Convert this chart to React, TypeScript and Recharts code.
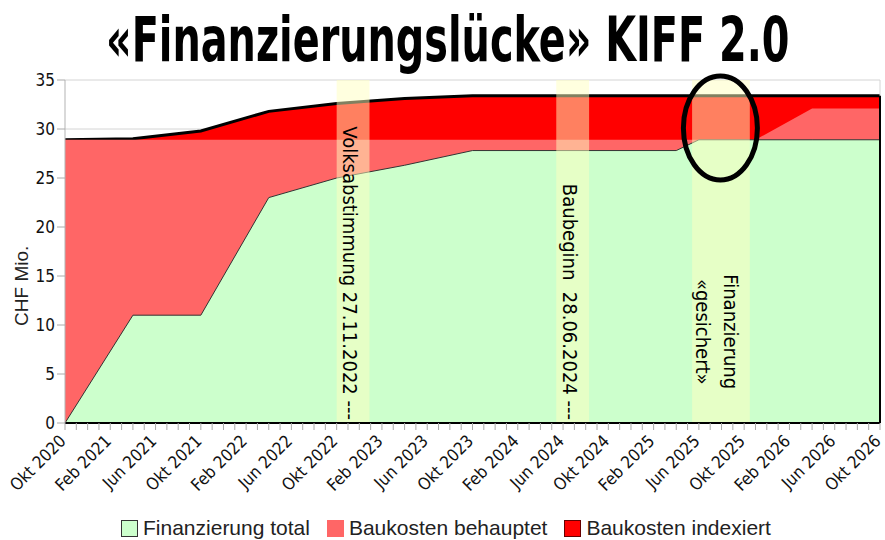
import React from "react"
import {
  AreaChart,
  Area,
  XAxis,
  YAxis,
  CartesianGrid,
  Legend,
  ReferenceArea,
  ReferenceDot,
  ReferenceLine,
} from "recharts"

// ── Data (x = months counted from Okt 2020) ──────────────────────────────────
const MONTHS = [0, 6, 12, 18, 24, 30, 36, 54, 56, 61, 66, 72]
const FINANZIERUNG_TOTAL = [0, 11, 11, 23, 25, 26.3, 27.8, 27.8, 28.9, 28.9, 28.9, 28.9]
const BAUKOSTEN_BEHAUPTET = [28.9, 28.9, 28.9, 28.9, 28.9, 28.9, 28.9, 28.9, 28.9, 28.9, 32.1, 32.1]
const BAUKOSTEN_INDEXIERT = [28.9, 29.0, 29.8, 31.8, 32.6, 33.1, 33.4, 33.4, 33.4, 33.4, 33.4, 33.4]

const TICK_LABELS = [
  "Okt 2020", "Feb 2021", "Jun 2021", "Okt 2021", "Feb 2022", "Jun 2022", "Okt 2022",
  "Feb 2023", "Jun 2023", "Okt 2023", "Feb 2024", "Jun 2024", "Okt 2024", "Feb 2025",
  "Jun 2025", "Okt 2025", "Feb 2026", "Jun 2026", "Okt 2026",
]
const Y_TICKS = [0, 5, 10, 15, 20, 25, 30, 35]

// highlighted periods
const BAND_START = [24, 43.4, 55.4]
const BAND_END = [26.9, 46.3, 60.5]
const BAND_TEXT = [
  ["Volksabstimmung 27.11.2022 ---"],
  ["Baubeginn  28.06.2024 ---"],
  ["Finanzierung", "«gesichert»"],
]

// the circled spot
const CIRCLE_MONTH = 57.9
const CIRCLE_VALUE = 30.1

const SERIES_NAMES = ["Finanzierung total", "Baukosten behauptet", "Baukosten indexiert"]

// ── Styling ───────────────────────────────────────────────────────────────────
const GREEN = "#ccffcc"
const LIGHT_RED = "#ff6666"
const RED = "#ff0000"
const BAND = "#ffffc0"
const COND = "'DejaVu Sans Condensed', 'Liberation Sans Narrow', 'Roboto', sans-serif"
const SANS = "'Liberation Sans', Arial, sans-serif"

const chartData = MONTHS.map((m, i) => ({
  month: m,
  total: FINANZIERUNG_TOTAL[i],
  behauptet: BAUKOSTEN_BEHAUPTET[i],
  indexiert: BAUKOSTEN_INDEXIERT[i],
}))

const monthTicks = Array.from({ length: 73 }, (_, i) => i)

function MonthTick(props: any) {
  const { x, y, payload } = props
  const i = payload.value
  if (i % 4 !== 0) return null
  const ax = x + 2
  const ay = y + 10
  return (
    <text
      x={ax}
      y={ay}
      textAnchor="end"
      transform={`rotate(-45 ${ax} ${ay})`}
      fontSize={17}
      fontFamily={COND}
      fill="#111"
    >
      {TICK_LABELS[i / 4]}
    </text>
  )
}

function bandLabel(idx: number) {
  return (p: any) => {
    const vb = p.viewBox
    const cx = vb.x + vb.width / 2
    const lines = BAND_TEXT[idx]
    if (lines.length === 1) {
      const bx = cx - 3
      const by = vb.y + vb.height - 3
      return (
        <text
          x={bx}
          y={by}
          textAnchor="end"
          dominantBaseline="central"
          transform={`rotate(90 ${bx} ${by})`}
          fontSize={20}
          fontFamily={COND}
          fill="#000"
          style={{ whiteSpace: "pre" }}
        >
          {lines[0]}
        </text>
      )
    }
    const my = vb.y + vb.height * 0.734
    return (
      <g>
        {lines.map((l, k) => {
          const lx = cx - 4 + (k === 0 ? 14 : -14)
          return (
            <text
              key={k}
              x={lx}
              y={my}
              textAnchor="middle"
              dominantBaseline="central"
              transform={`rotate(90 ${lx} ${my})`}
              fontSize={20}
              fontFamily={COND}
              fill="#000"
            >
              {l}
            </text>
          )
        })}
      </g>
    )
  }
}

function LegendBox() {
  const fills = [GREEN, LIGHT_RED, RED]
  const borders = ["#333", LIGHT_RED, "#600"]
  return (
    <div
      style={{
        display: "flex",
        alignItems: "center",
        height: 24,
        paddingLeft: 121,
        fontFamily: SANS,
        fontSize: 21,
        color: "#222",
      }}
    >
      {SERIES_NAMES.map((n, i) => (
        <div key={n} style={{ display: "flex", alignItems: "center", marginRight: 17 }}>
          <span
            style={{
              display: "inline-block",
              width: 15,
              height: 15,
              background: fills[i],
              border: `1px solid ${borders[i]}`,
              marginRight: 5,
            }}
          />
          <span>{n}</span>
        </div>
      ))}
    </div>
  )
}

export default function App() {
  return (
    <div
      style={{
        position: "fixed",
        left: 0,
        top: 0,
        width: 885,
        height: 540,
        background: "#fff",
        overflow: "hidden",
      }}
    >
      <svg width={885} height={80} style={{ position: "absolute", left: 0, top: 0 }}>
        <text
          transform="translate(106 61) scale(0.713 1)"
          x={0}
          y={0}
          fontSize={62}
          fontWeight="bold"
          fontFamily={COND}
          fill="#000"
        >
          «Finanzierungslücke» KIFF 2.0
        </text>
      </svg>
      <div style={{ position: "absolute", left: 0, top: 0 }}>
        <AreaChart
          width={885}
          height={540}
          data={chartData}
          margin={{ top: 80, right: 5, left: 20, bottom: 0 }}
        >
          <CartesianGrid horizontal vertical={false} stroke="#d4d4d4" />
          <XAxis
            dataKey="month"
            type="number"
            domain={[0, 72]}
            ticks={monthTicks}
            interval={0}
            height={93}
            tick={<MonthTick />}
            tickSize={7}
            tickMargin={2}
            tickLine={{ stroke: "#aaa" }}
            axisLine={{ stroke: "#000", strokeWidth: 2 }}
          />
          <YAxis
            type="number"
            domain={[0, 35]}
            ticks={Y_TICKS}
            width={45}
            tickSize={8}
            tickLine={{ stroke: "#aaa" }}
            axisLine={{ stroke: "#b3b3b3" }}
            tick={{ fontSize: 17, fontFamily: COND, fill: "#111" }}
            label={(p: any) => {
              const vb = p.viewBox
              const lx = vb.x + 2
              const ly = vb.y + vb.height * 0.6
              return (
                <text
                  x={lx}
                  y={ly}
                  textAnchor="middle"
                  dominantBaseline="central"
                  transform={`rotate(-90 ${lx} ${ly})`}
                  fontSize={19}
                  fontFamily={SANS}
                  fill="#222"
                >
                  CHF Mio.
                </text>
              )
            }}
          />
          <ReferenceLine x={72} stroke="#d4d4d4" />
          <Area
            type="linear"
            dataKey="indexiert"
            name={SERIES_NAMES[2]}
            fill={RED}
            fillOpacity={1}
            stroke="#000"
            strokeWidth={3}
            isAnimationActive={false}
          />
          <Area
            type="linear"
            dataKey="behauptet"
            name={SERIES_NAMES[1]}
            fill={LIGHT_RED}
            fillOpacity={1}
            stroke="none"
            isAnimationActive={false}
          />
          <Area
            type="linear"
            dataKey="total"
            name={SERIES_NAMES[0]}
            fill={GREEN}
            fillOpacity={1}
            stroke="#333"
            strokeWidth={1}
            isAnimationActive={false}
          />
          <ReferenceLine
            segment={[
              { x: 72, y: 0 },
              { x: 72, y: BAUKOSTEN_INDEXIERT[BAUKOSTEN_INDEXIERT.length - 1] },
            ]}
            stroke="#000"
            strokeWidth={2}
          />
          {BAND_START.map((s, i) => (
            <ReferenceArea
              key={i}
              x1={s}
              x2={BAND_END[i]}
              y1={0}
              y2={35}
              fill={BAND}
              fillOpacity={0.5}
              stroke="none"
              label={bandLabel(i)}
            />
          ))}
          <ReferenceDot
            x={CIRCLE_MONTH}
            y={CIRCLE_VALUE}
            shape={(p: any) => (
              <ellipse cx={p.cx} cy={p.cy} rx={37} ry={52} fill="none" stroke="#000" strokeWidth={5} />
            )}
          />
          <Legend verticalAlign="bottom" wrapperStyle={{ left: 0, width: 885 }} content={<LegendBox />} />
        </AreaChart>
      </div>
    </div>
  )
}
